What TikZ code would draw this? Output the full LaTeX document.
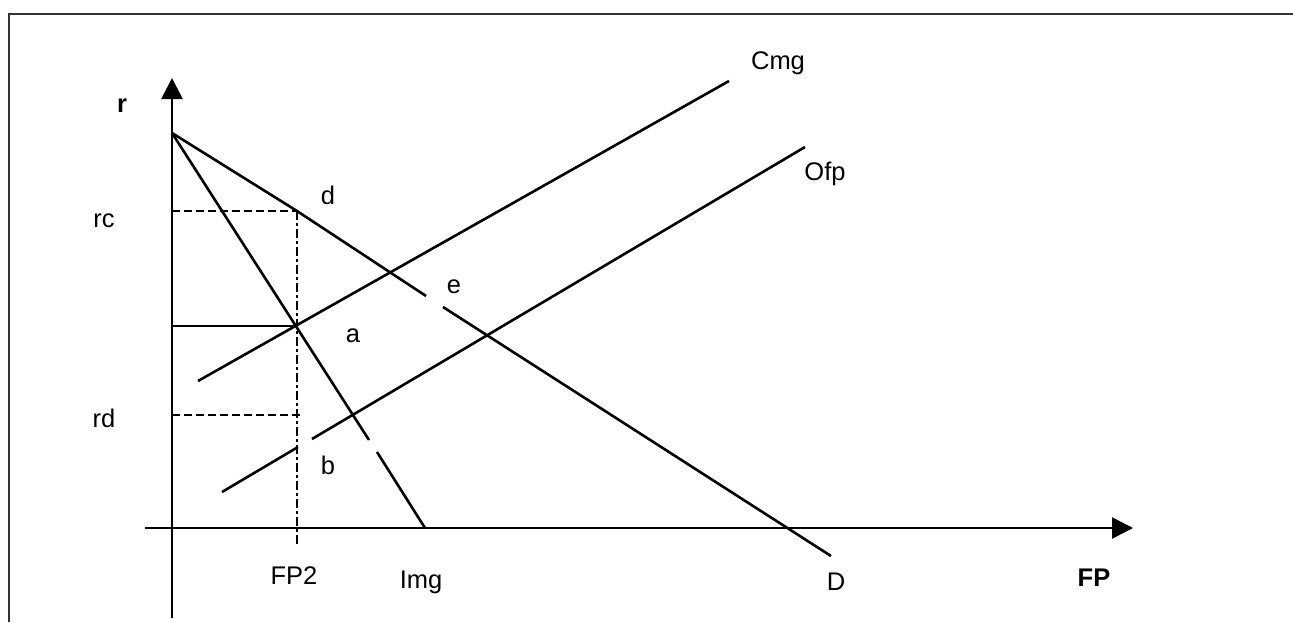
\documentclass[tikz,border=0pt]{standalone}
\usepackage{fontspec}
\setmainfont{Liberation Sans}
\usetikzlibrary{arrows.meta}
\begin{document}
\begin{tikzpicture}[x=1pt,y=-1pt,
  ln/.style={line width=2.6pt,black},
  dsh/.style={line width=2.4pt,dash pattern=on 8pt off 4pt},
  dshdot/.style={line width=2.4pt,dash pattern=on 9pt off 3pt on 3pt off 3pt},
  lbl/.style={inner sep=0pt,font=\fontsize{25.5}{28}\selectfont},
  axis/.style={line width=2.6pt,-{Triangle[length=21pt,width=21pt]}}]
\useasboundingbox (0,0) rectangle (1293,622);
% frame
\draw[line width=2.5pt,black!80] (9,622) -- (9,14) -- (1293,14);
% coordinates
\coordinate (ybot) at (172,618);
\coordinate (ytip) at (172,78);
\coordinate (xst) at (145,528);
\coordinate (xtip) at (1133,528);
\coordinate (A) at (172,133);
\coordinate (d) at (297,211);
\coordinate (Dg1) at (426,296);
\coordinate (Dg2) at (443,307);
\coordinate (Dend) at (831,556);
\coordinate (Ig1) at (369,440);
\coordinate (Ig2) at (377,452);
\coordinate (Iend) at (425,528);
\coordinate (P) at (295,326);
\coordinate (C1) at (198,381);
\coordinate (C2) at (729,81);
\coordinate (O1) at (222,492);
\coordinate (Og1) at (298,447);
\coordinate (Og2) at (312,439);
\coordinate (O2) at (805,147);
\coordinate (rcL) at (172,211);
\coordinate (rdL) at (172,415);
\coordinate (rdR) at (303,415);
\coordinate (aL) at (172,326);
\coordinate (vbot) at (297,545);
% axes
\draw[axis] (ybot) -- (ytip);
\draw[axis] (xst) -- (xtip);
% demand D
\draw[ln] (A) -- (d) -- (Dg1);
\draw[ln] (Dg2) -- (Dend);
% Img
\draw[ln] (A) -- (Ig1);
\draw[ln] (Ig2) -- (Iend);
% Cmg
\draw[ln] (C1) -- (C2);
% Ofp
\draw[ln] (O1) -- (Og1);
\draw[ln] (Og2) -- (O2);
% guides
\draw[dsh] (rcL) -- (d);
\draw[dsh] (rdL) -- (rdR);
\draw[ln] (aL) -- (P);
\draw[dshdot] (d) -- (vbot);
% labels
\node[lbl,font=\fontsize{25.5}{28}\selectfont\bfseries] (r) at (122,106) {r};
\node[lbl] (rc) at (104,221) {rc};
\node[lbl] (rd) at (104,418) {rd};
\node[lbl] (ld) at (328,195) {d};
\node[lbl] (le) at (454,287) {e};
\node[lbl] (la) at (353,336) {a};
\node[lbl] (lb) at (328,465) {b};
\node[lbl] (fp2) at (294,576) {FP2};
\node[lbl] (img) at (421,582) {Img};
\node[lbl] (lD) at (836,582) {D};
\node[lbl,font=\fontsize{25.5}{28}\selectfont\bfseries] (fp) at (1094,578) {FP};
\node[lbl] (cmg) at (778,63) {Cmg};
\node[lbl] (ofp) at (825,174) {Ofp};
\end{tikzpicture}
\end{document}
